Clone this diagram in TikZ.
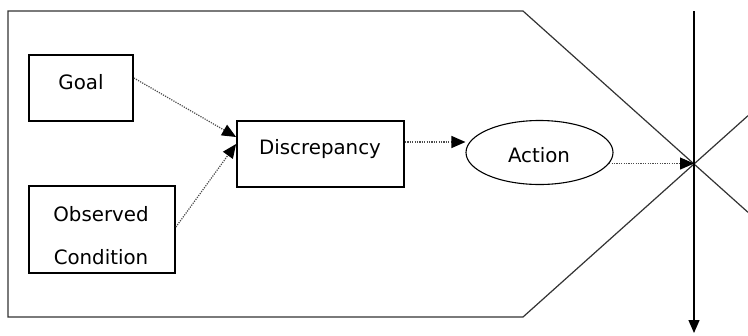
\documentclass[tikz,border=0pt]{standalone}
\usepackage{fontspec}
\setmainfont{DejaVu Sans}
\usetikzlibrary{arrows.meta,shapes.geometric,calc}
\begin{document}
\begin{tikzpicture}[x=1bp,y=-1bp,
 box/.style={draw=black,line width=1.8bp,inner sep=0pt,rectangle},
 oval/.style={draw=black,line width=1.1bp,inner sep=0pt,ellipse},
 lbl/.style={font=\fontsize{19.8bp}{23bp}\selectfont,inner sep=0pt,anchor=base},
 dotarrow/.style={draw=black!70,line width=1.2bp,dash pattern=on 1.2bp off 1.2bp,-{Triangle[length=14bp,width=12bp,fill=black,color=black]}},
 frame/.style={draw=black!80,line width=1.2bp},
 axis/.style={draw=black,line width=1.4bp,-{Triangle[length=13bp,width=11bp]}}]
\useasboundingbox (0,0) rectangle (748,335);
\fill[white] (0,0) rectangle (748,335);
% frame
\coordinate (X) at (694,164);
\coordinate (tl) at (8,11);
\coordinate (tr) at (523,11);
\coordinate (br) at (523,317);
\coordinate (bl) at (8,317);
\draw[frame] ($(br)!1.316!(X)$) -- (X) -- (br) -- (bl) -- (tl) -- (tr) -- (X) -- ($(tr)!1.316!(X)$);
% vertical arrow
\coordinate (vt) at (694,11);
\coordinate (vb) at (694,333);
\draw[axis] (vt) -- (vb);
% boxes
\node[box,minimum width=104bp,minimum height=66bp] (goal) at (81,88) {};
\node[box,minimum width=146bp,minimum height=87bp] (obs) at (102,229.5) {};
\node[box,minimum width=167bp,minimum height=66bp] (disc) at (320.5,154) {};
\node[oval,minimum width=147bp,minimum height=64bp] (action) at (539.5,152.5) {};
% labels
\node[lbl] (goaltxt) at (81,89) {Goal};
\node[lbl] (obstxt1) at (101,221) {Observed};
\node[lbl] (obstxt2) at (101,264) {Condition};
\node[lbl] (disctxt) at (320,154) {Discrepancy};
\node[lbl] (actiontxt) at (539,162) {Action};
% connectors
\draw[dotarrow] ([yshift=10bp]goal.east) -- ([yshift=17bp]disc.west);
\draw[dotarrow] ([yshift=2.5bp]obs.east) -- ([yshift=10bp]disc.west);
\draw[dotarrow] ([yshift=12bp]disc.east) -- ([yshift=12bp]disc.east -| action.west);
\draw[dotarrow] (action.-9.5) -- (action.-9.5 -| X);
\end{tikzpicture}
\end{document}
